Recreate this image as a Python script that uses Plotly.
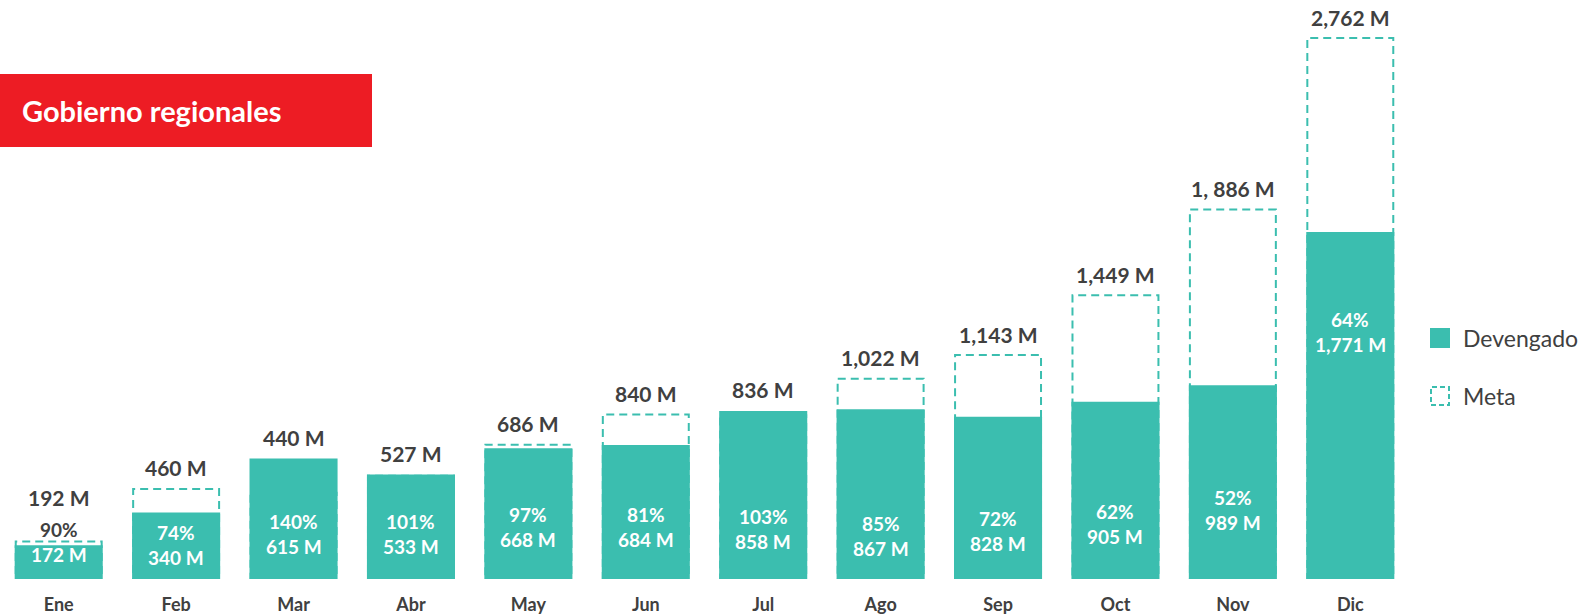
import plotly.graph_objects as go

# ---------------- data ----------------
months = ["Ene", "Feb", "Mar", "Abr", "May", "Jun", "Jul", "Ago", "Sep", "Oct", "Nov", "Dic"]
devengado = [172, 340, 615, 533, 668, 684, 858, 867, 828, 905, 989, 1771]
meta = [192, 460, 440, 527, 686, 840, 836, 1022, 1143, 1449, 1886, 2762]
meta_labels = ["192 M", "460 M", "440 M", "527 M", "686 M", "840 M", "836 M",
               "1,022 M", "1,143 M", "1,449 M", "1, 886 M", "2,762 M"]
dev_labels = ["172 M", "340 M", "615 M", "533 M", "668 M", "684 M", "858 M",
              "867 M", "828 M", "905 M", "989 M", "1,771 M"]
pct_labels = ["90%", "74%", "140%", "101%", "97%", "81%", "103%", "85%", "72%", "62%", "52%", "64%"]

# layout setting: vertical centre (in value units) of the two-line label of each bar
inner_label_y = [190, 173, 230, 232, 263, 263, 253, 219, 245, 281, 350, 1261]

# ---------------- styles ----------------
TEAL = "#3BBEAF"
DARK = "#404040"
RED = "#ED1C24"
FONT = "Lato, 'Open Sans', sans-serif"

FIG_W, FIG_H = 1590, 616
M_L, M_R, M_T, M_B = 0, 181, 0, 37
PW = FIG_W - M_L - M_R
PH = FIG_H - M_T - M_B
Y_MAX = 2956
BAR_W = 0.75
INSET = 0.009


def px(x):
    return (x - M_L) / PW


def py(y):
    return (M_T + PH - y) / PH


fig = go.Figure()
fig.add_trace(go.Bar(
    x=months, y=devengado, name="Devengado",
    marker=dict(color=TEAL, line=dict(width=0)),
    width=BAR_W, hoverinfo="skip", showlegend=False,
))

shapes = []
annotations = []

# dashed "Meta" outlines (behind bars)
for i, m in enumerate(meta):
    shapes.append(dict(
        type="rect", xref="x", yref="y", layer="below",
        x0=i - BAR_W / 2 + INSET, x1=i + BAR_W / 2 - INSET, y0=0, y1=m,
        line=dict(color=TEAL, width=2, dash="8px,5px"), fillcolor="rgba(0,0,0,0)",
    ))

for i, mo in enumerate(months):
    d = devengado[i]
    cy = inner_label_y[i]
    pct_outside = cy + 12.5 * Y_MAX / PH > d
    annotations.append(dict(
        x=i, y=cy, xref="x", yref="y", text=pct_labels[i], showarrow=False,
        yshift=12.5, yanchor="middle",
        font=dict(family=FONT, size=19, color=DARK if pct_outside else "white", weight="bold"),
    ))
    annotations.append(dict(
        x=i, y=cy, xref="x", yref="y", text=dev_labels[i], showarrow=False,
        yshift=-12.5, yanchor="middle",
        font=dict(family=FONT, size=19, color="white", weight="bold"),
    ))
    if pct_outside:
        my, shift = cy, 44
    else:
        my, shift = max(meta[i], d), 21
    annotations.append(dict(
        x=i, y=my, xref="x", yref="y", text=meta_labels[i], showarrow=False,
        yshift=shift, yanchor="middle",
        font=dict(family=FONT, size=21, color=DARK, weight="bold"),
    ))

# title box
shapes.append(dict(type="rect", xref="paper", yref="paper",
                   x0=px(0), x1=px(372), y0=py(147), y1=py(74),
                   fillcolor=RED, line=dict(width=0)))
annotations.append(dict(x=px(20), y=py(110), xref="paper", yref="paper",
                        text="Gobierno regionales", showarrow=False,
                        xanchor="left", yanchor="middle",
                        font=dict(family=FONT, size=29, color="white", weight="bold")))

# legend
shapes.append(dict(type="rect", xref="paper", yref="paper",
                   x0=px(1430), x1=px(1450), y0=py(348), y1=py(328),
                   fillcolor=TEAL, line=dict(width=0)))
shapes.append(dict(type="rect", xref="paper", yref="paper",
                   x0=px(1431), x1=px(1449), y0=py(405), y1=py(387),
                   fillcolor="rgba(0,0,0,0)", line=dict(color=TEAL, width=2, dash="5px,3px")))
annotations.append(dict(x=px(1461), y=py(338), xref="paper", yref="paper",
                        text="Devengado", showarrow=False, xanchor="left", yanchor="middle",
                        font=dict(family=FONT, size=23, color=DARK)))
annotations.append(dict(x=px(1461), y=py(396), xref="paper", yref="paper",
                        text="Meta", showarrow=False, xanchor="left", yanchor="middle",
                        font=dict(family=FONT, size=23, color=DARK)))

fig.update_layout(
    width=FIG_W, height=FIG_H,
    margin=dict(l=M_L, r=M_R, t=M_T, b=M_B, autoexpand=False),
    paper_bgcolor="white", plot_bgcolor="white",
    bargap=1 - BAR_W,
    shapes=shapes, annotations=annotations,
    showlegend=False,
    xaxis=dict(type="category", range=[-0.5, 11.5], showgrid=False, zeroline=False,
               showline=False, ticks="", automargin=False, ticklabelstandoff=13,
               tickfont=dict(family=FONT, size=18, color=DARK, weight="bold")),
    yaxis=dict(range=[0, Y_MAX], visible=False, showgrid=False, zeroline=False),
)

fig.write_html(
    "out.html",
    config={"displayModeBar": False, "staticPlot": True},
    post_script="document.body.style.margin='0';document.body.style.overflow='hidden';",
)
